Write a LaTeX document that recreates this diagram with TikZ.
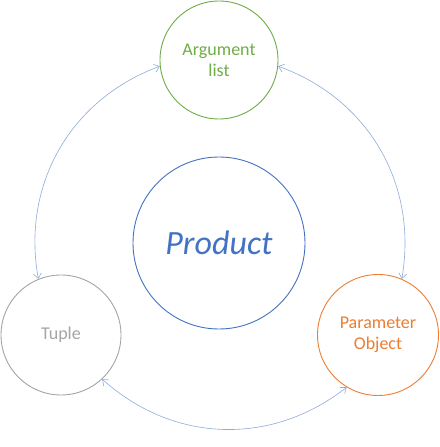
\documentclass[tikz,border=0pt]{standalone}
\usepackage{fontspec}
\setmainfont{Carlito}
\usetikzlibrary{arrows.meta}
\definecolor{cgreen}{HTML}{70AD47}
\definecolor{cblue}{HTML}{4472C4}
\definecolor{cgray}{HTML}{A5A5A5}
\definecolor{corange}{HTML}{ED7D31}
\definecolor{carrow}{HTML}{8FAADC}
\tikzset{
  bub/.style={circle, draw, line width=0.9pt, inner sep=0pt, align=center, fill=white,
    font=\fontsize{18}{21}\selectfont},
  conn/.style={draw=carrow, line width=0.6pt,
    {Straight Barb[length=5pt,width=8pt]}-{Straight Barb[length=5pt,width=8pt]}}
}
\begin{document}
\begin{tikzpicture}[x=1pt,y=1pt]
\useasboundingbox (0,0) rectangle (439,447);
\node[bub, draw=cgreen, text=cgreen, minimum size=118pt] (arg) at (219,387) {Argument\\list};
\node[bub, draw=cblue, text=cblue, minimum size=172pt, font=\fontsize{34}{40}\selectfont\itshape] (prod) at (219,204) {Product};
\node[bub, draw=cgray, text=cgray, minimum size=120pt] (tup) at (61,112) {Tuple};
\node[bub, draw=corange, text=corange, minimum size=121pt] (par) at (378,112) {Parameter\\Object};
\draw[conn] (arg.186) to[bend right=40] (tup.112);
\draw[conn] (arg.354) to[bend left=40] (par.67);
\draw[conn] (tup.-47) to[bend right=40] (par.239);
\end{tikzpicture}
\end{document}
